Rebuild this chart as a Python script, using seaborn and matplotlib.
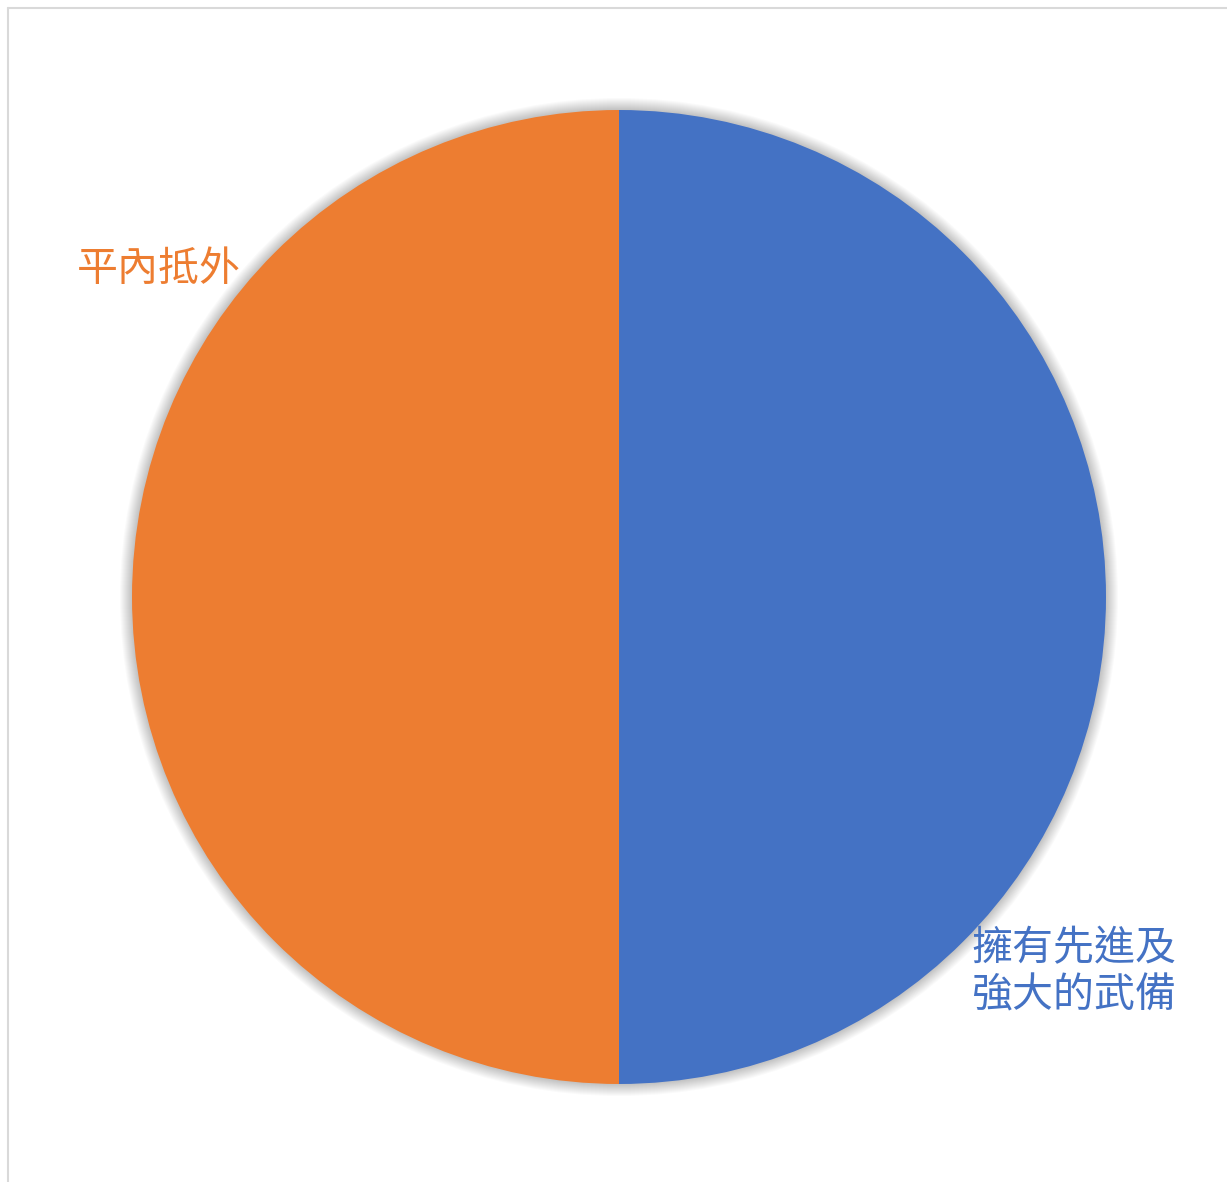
import matplotlib
matplotlib.use("Agg")
import matplotlib.pyplot as plt
import seaborn as sns
from matplotlib.patches import Circle
from matplotlib.lines import Line2D

# data
labels = ["擁有先進及\n強大的武備", "平內抵外"]
values = [50, 50]
colors = ["#4472C4", "#ED7D31"]

sns.set_theme(style="white")
plt.rcParams['font.family'] = ['Noto Sans CJK TC', 'DejaVu Sans']

W, H = 1227, 1182
fig = plt.figure(figsize=(W / 100, H / 100), dpi=100)
ax = fig.add_axes([0, 0, 1, 1])

cx, cy, r = 619, H - 597, 487

# soft shadow around the pie
for i in range(12):
    ax.add_patch(Circle((cx, cy), r + 12 - i, color="black", alpha=0.02, lw=0, zorder=1))

wedges, _ = ax.pie(values, colors=colors, startangle=90, counterclock=False,
                   center=(cx, cy), radius=r, frame=True,
                   wedgeprops=dict(linewidth=0))
for w in wedges:
    w.set_zorder(2)
ax.set_xlim(0, W)
ax.set_ylim(0, H)
ax.axis("off")

# data labels
ax.text(971, H - 972, labels[0], color=colors[0], fontsize=29.5, ha="left", va="center",
        linespacing=1.2, zorder=3)
ax.text(77, H - 269, labels[1], color=colors[1], fontsize=29.5, ha="left", va="center", zorder=3)

# chart border (top and left visible)
fig.add_artist(Line2D([8 / W, 1], [1 - 8 / H, 1 - 8 / H], color="#d9d9d9", lw=1.5))
fig.add_artist(Line2D([8 / W, 8 / W], [0, 1 - 8 / H], color="#d9d9d9", lw=1.5))

fig.savefig("out.png", dpi=100, facecolor="white")
